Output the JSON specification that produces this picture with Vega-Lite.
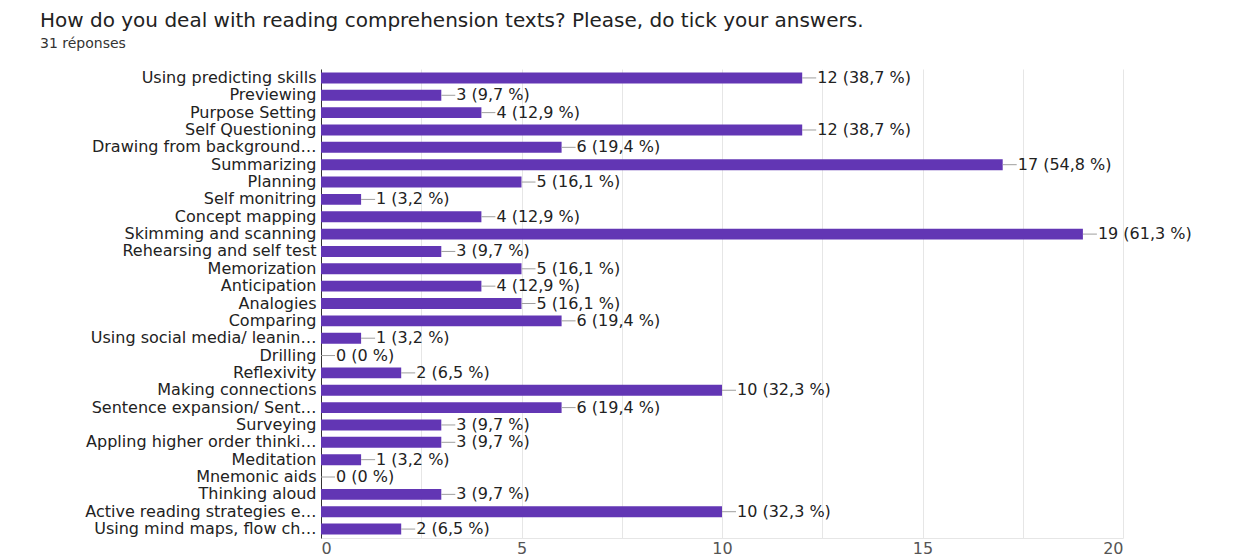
{
  "$schema": "https://vega.github.io/schema/vega-lite/v6.json",
  "width": 802,
  "height": 469,
  "autosize": {"type": "none"},
  "padding": {"left": 321, "top": 69, "right": 121, "bottom": 21},
  "background": "#ffffff",
  "title": {
    "text": "How do you deal with reading comprehension texts? Please, do tick your answers.",
    "subtitle": "31 réponses",
    "anchor": "start",
    "frame": "group",
    "dx": -281,
    "offset": 18,
    "font": "DejaVu Sans",
    "fontSize": 20,
    "fontWeight": "normal",
    "color": "#222222",
    "subtitleFont": "DejaVu Sans",
    "subtitleFontSize": 14,
    "subtitleColor": "#333333",
    "subtitlePadding": 6
  },
  "data": {
    "values": [
      {"option": "Using predicting skills", "count": 12, "label": "12 (38,7 %)"},
      {"option": "Previewing", "count": 3, "label": "3 (9,7 %)"},
      {"option": "Purpose Setting", "count": 4, "label": "4 (12,9 %)"},
      {"option": "Self Questioning", "count": 12, "label": "12 (38,7 %)"},
      {"option": "Drawing from background…", "count": 6, "label": "6 (19,4 %)"},
      {"option": "Summarizing", "count": 17, "label": "17 (54,8 %)"},
      {"option": "Planning", "count": 5, "label": "5 (16,1 %)"},
      {"option": "Self monitring", "count": 1, "label": "1 (3,2 %)"},
      {"option": "Concept mapping", "count": 4, "label": "4 (12,9 %)"},
      {"option": "Skimming and scanning", "count": 19, "label": "19 (61,3 %)"},
      {"option": "Rehearsing and self test", "count": 3, "label": "3 (9,7 %)"},
      {"option": "Memorization", "count": 5, "label": "5 (16,1 %)"},
      {"option": "Anticipation", "count": 4, "label": "4 (12,9 %)"},
      {"option": "Analogies", "count": 5, "label": "5 (16,1 %)"},
      {"option": "Comparing", "count": 6, "label": "6 (19,4 %)"},
      {"option": "Using social media/ leanin…", "count": 1, "label": "1 (3,2 %)"},
      {"option": "Drilling", "count": 0, "label": "0 (0 %)"},
      {"option": "Reflexivity", "count": 2, "label": "2 (6,5 %)"},
      {"option": "Making connections", "count": 10, "label": "10 (32,3 %)"},
      {"option": "Sentence expansion/ Sent…", "count": 6, "label": "6 (19,4 %)"},
      {"option": "Surveying", "count": 3, "label": "3 (9,7 %)"},
      {"option": "Appling higher order thinki…", "count": 3, "label": "3 (9,7 %)"},
      {"option": "Meditation", "count": 1, "label": "1 (3,2 %)"},
      {"option": "Mnemonic aids", "count": 0, "label": "0 (0 %)"},
      {"option": "Thinking aloud", "count": 3, "label": "3 (9,7 %)"},
      {"option": "Active reading strategies e…", "count": 10, "label": "10 (32,3 %)"},
      {"option": "Using mind maps, flow ch…", "count": 2, "label": "2 (6,5 %)"}
    ]
  },
  "encoding": {
    "y": {
      "field": "option",
      "type": "nominal",
      "sort": null,
      "title": null,
      "scale": {"paddingInner": 0.37, "paddingOuter": 0.2},
      "axis": {
        "ticks": false,
        "domain": true,
        "domainColor": "#333333",
        "domainWidth": 1,
        "labelPadding": 5,
        "labelFont": "DejaVu Sans",
        "labelFontSize": 16,
        "labelColor": "#222222",
        "labelLimit": 400,
        "grid": false
      }
    },
    "x": {
      "field": "count",
      "type": "quantitative",
      "title": null,
      "scale": {"domain": [0, 20], "nice": false},
      "axis": {
        "values": [0, 2.5, 5, 7.5, 10, 12.5, 15, 17.5, 20],
        "labelExpr": "datum.value % 5 === 0 ? datum.label : ''",
        "ticks": false,
        "domain": true,
        "domainColor": "#e6e6e6",
        "grid": true,
        "gridColor": "#e6e6e6",
        "labelFont": "DejaVu Sans",
        "labelFontSize": 16,
        "labelColor": "#555555",
        "labelPadding": 2
      }
    }
  },
  "layer": [
    {
      "mark": {"type": "bar", "color": "#6236b4"}
    },
    {
      "mark": {"type": "rule", "color": "#9e9e9e", "x2Offset": 14, "strokeWidth": 1},
      "encoding": {"x2": {"field": "count"}}
    },
    {
      "mark": {"type": "text", "align": "left", "baseline": "middle", "dx": 15, "font": "DejaVu Sans", "fontSize": 16, "color": "#222222"},
      "encoding": {"text": {"field": "label", "type": "nominal"}}
    }
  ],
  "config": {"view": {"stroke": null}}
}
